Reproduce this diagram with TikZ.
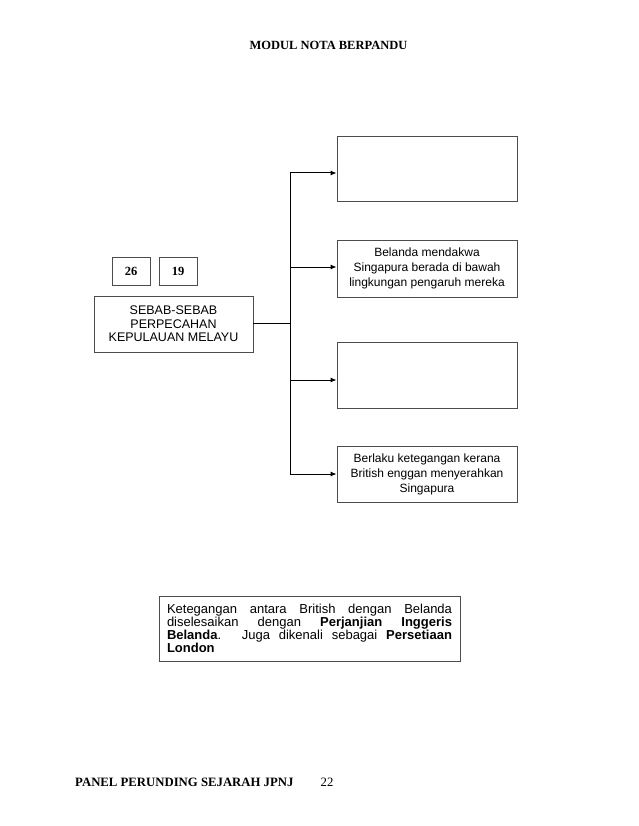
\documentclass[tikz,border=0pt]{standalone}
\usepackage{fontspec}
\setmainfont{Liberation Serif}
\setsansfont{Liberation Sans}
\usetikzlibrary{arrows.meta}
\begin{document}
\begin{tikzpicture}[x=1pt,y=1pt,
  box/.style={draw=black!70,line width=0.9pt,inner sep=0pt,align=center,font=\sffamily\fontsize{12}{15}\selectfont},
  numbox/.style={draw=black!70,line width=0.9pt,inner sep=0pt,minimum width=38pt,minimum height=28pt,font=\rmfamily\bfseries\fontsize{12.5}{14}\selectfont},
  conn/.style={line width=1pt,black},
  arr/.style={conn,-{Latex[length=6pt,width=5pt]}}]
\useasboundingbox (0,0) rectangle (638,-826);
\fill[white] (0,0) rectangle (638,-826);
\node[font=\rmfamily\bfseries\fontsize{12.5}{14}\selectfont] (hdr) at (328.5,-45) {MODUL NOTA BERPANDU};
\node[numbox] (n26) at (131,-271) {26};
\node[numbox] (n19) at (178,-271) {19};
\node[box,minimum width=159pt,minimum height=56pt,font=\sffamily\fontsize{12.5}{13.5}\selectfont] (S) at (173.5,-324) {SEBAB-SEBAB\\PERPECAHAN\\KEPULAUAN MELAYU};
\node[box,minimum width=180pt,minimum height=65pt] (R1) at (427,-168.5) {};
\node[box,minimum width=180pt,minimum height=57pt] (R2) at (427,-268.5) {Belanda mendakwa\\Singapura berada di bawah\\lingkungan pengaruh mereka};
\node[box,minimum width=180pt,minimum height=66pt] (R3) at (427,-375) {};
\node[box,minimum width=180pt,minimum height=56pt] (R4) at (427,-474) {Berlaku ketegangan kerana\\British enggan menyerahkan\\Singapura};
\coordinate (J) at (290,-323);
\coordinate (t1) at (290,-173);
\coordinate (t2) at (290,-267);
\coordinate (t3) at (290,-380);
\coordinate (t4) at (290,-474);
\draw[conn] (S.east |- J) -- (J);
\draw[conn] (t1) -- (t4);
\draw[arr] (t1) -- (R1.west |- t1);
\draw[arr] (t2) -- (R2.west |- t2);
\draw[arr] (t3) -- (R3.west |- t3);
\draw[arr] (t4) -- (R4.west |- t4);
\node[box,minimum width=301pt,minimum height=65pt,text width=285pt,align=justify,font=\sffamily\fontsize{13}{13}\selectfont] (B) at (309.5,-628.5) {\hyphenpenalty=10000\exhyphenpenalty=10000\tolerance=10000 Ketegangan antara British dengan Belanda\linebreak diselesaikan dengan \textbf{Perjanjian Inggeris}\linebreak \textbf{Belanda}. Juga dikenali sebagai \textbf{Persetiaan}\linebreak \textbf{London}};
\node[anchor=west,inner sep=0pt,font=\rmfamily\bfseries\fontsize{12.75}{14}\selectfont] (ftr) at (75,-782) {PANEL PERUNDING SEJARAH JPNJ};
\node[font=\rmfamily\fontsize{12.75}{14}\selectfont] (pg) at (327,-782) {22};
\end{tikzpicture}
\end{document}
